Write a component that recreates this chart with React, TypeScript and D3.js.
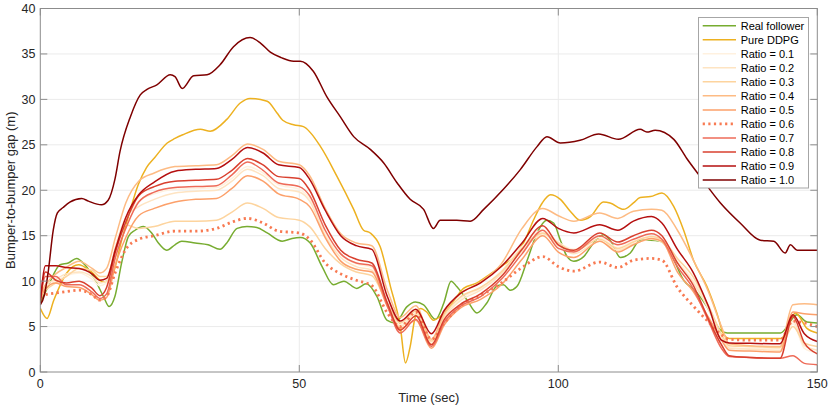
import React, { useEffect, useRef } from 'react'
import * as d3 from 'd3'

// [time (sec), gap (m)] pairs
const realFollower: [number, number][] = [
	[0, 7.6], [1.5, 9.4], [3.8, 11.8], [5.4, 12.0], [7, 12.5], [8.6, 11.8], [10.6, 10.1], [12.2, 8.3],
	[13.3, 7.2], [14.4, 8.3], [15.7, 12.0], [17, 14.9], [18.3, 15.6], [19.9, 16.0], [21.5, 15.3],
	[22.8, 14.2], [24.4, 13.4], [26, 14.0], [27.3, 14.4], [29.9, 14.2], [32.4, 14.0], [34.7, 13.5],
	[36, 14.2], [38, 15.8], [39.9, 16.0], [41.8, 15.9], [43.8, 15.3], [46.7, 14.4], [48.6, 14.7],
	[50.2, 14.8], [52.1, 14.2], [54.4, 11.6], [56.6, 9.6], [58.6, 10.0], [61.1, 9.2], [62.9, 9.7],
	[65, 8.3], [66.9, 5.7], [68.5, 5.4], [70.8, 7.2], [72.4, 7.7], [74, 7.4], [76.3, 5.8], [77.9, 7.6],
	[79.3, 10.0], [80.4, 9.4], [82.4, 7.9], [84.3, 6.5], [86.2, 7.6], [88.2, 9.5], [89.4, 9.6],
	[90.7, 9.0], [92, 9.4], [94, 12.3], [95.9, 15.3], [97.8, 16.7], [99.1, 16.4], [100.4, 14.5],
	[101.7, 12.7], [103, 12.2], [104.9, 12.7], [106.8, 14.2], [108.7, 15.1], [110, 14.5], [112, 12.6],
	[113.9, 13.1], [115.8, 14.5], [117.8, 14.5], [119.7, 14.4], [121, 13.8], [124.2, 10.1],
	[126.8, 8.7], [128.7, 7.2], [131.3, 4.6], [132.6, 4.3], [142.9, 4.3], [146.1, 6.3], [148, 5.5],
	[150, 5.4]
]

const pureDDPG: [number, number][] = [
	[0, 7.0], [1.3, 5.9], [2.6, 7.9], [5.1, 10.9], [7.4, 11.8], [9.7, 11.1], [12.2, 9.9], [13.2, 10.1],
	[14.1, 10.9], [15.7, 14.5], [17, 17.1], [18.9, 20.6], [20.5, 22.5], [22.1, 23.6], [24.5, 25.2],
	[26, 25.7], [27.5, 26.1], [30.9, 26.7], [32.8, 26.5], [36, 27.8], [38.6, 29.6], [40.5, 30.1],
	[43.8, 29.8], [45.7, 28.5], [46.8, 27.7], [48.9, 27.2], [50.8, 27.0], [54.1, 24.8], [57.3, 21.5],
	[60.5, 17.9], [62.4, 15.6], [63.7, 15.3], [65.6, 13.8], [67.6, 9.4], [69.5, 5.0], [70.5, 1.0],
	[71.4, 2.8], [72.4, 6.1], [73.4, 7.0], [74.6, 6.6], [75.9, 5.7], [77.2, 6.1], [78.5, 6.8],
	[80.4, 8.3], [81.7, 9.2], [84.3, 9.8], [86.9, 10.8], [89.4, 11.8], [90.7, 12.3], [93.3, 14.2],
	[95.2, 16.7], [96.9, 18.6], [98.5, 19.5], [100.4, 19.0], [102.3, 17.7], [104.2, 16.7],
	[106.2, 17.1], [108.7, 18.7], [110, 18.6], [112.6, 17.9], [114.5, 18.6], [115.8, 19.2],
	[117.8, 19.3], [120, 19.7], [122.3, 18.2], [124.2, 15.6], [126.1, 12.3], [128.7, 9.4],
	[130.6, 6.5], [131.9, 4.2], [133, 3.7], [143, 3.7], [145.8, 6.5], [148, 4.8], [150, 4.3]
]

const ratio10: [number, number][] = [
	[0, 7.4], [0.8, 8.5], [1.5, 10.9], [2.5, 15.6], [3.3, 17.5], [4.4, 18.1], [5.7, 18.7], [8, 19.1],
	[9.3, 18.8], [11.8, 18.4], [13.1, 18.9], [14.4, 21.2], [15.4, 24.3], [17.4, 28.1], [19.3, 30.5],
	[20.6, 31.1], [22.5, 31.6], [25.1, 32.7], [26, 32.5], [27.4, 31.2], [29.6, 32.6], [32.2, 32.7],
	[34.7, 33.8], [37.3, 35.8], [40.5, 36.8], [42.5, 36.2], [44.4, 35.2], [46.5, 34.6], [48.9, 34.2],
	[50.2, 34.2], [52.7, 33.1], [55.3, 30.3], [57.9, 28.1], [60.5, 25.9], [63.7, 24.5], [66.3, 23.0],
	[68.9, 20.8], [71.4, 19.0], [74, 17.9], [75.9, 15.8], [77.2, 16.7], [80.4, 16.7], [83, 16.6],
	[85.6, 17.9], [89.4, 20.1], [92.7, 22.3], [95.9, 24.8], [97.8, 25.9], [100.4, 25.2],
	[104.2, 25.5], [107.8, 26.2], [111.6, 25.6], [115.8, 26.7], [117.1, 26.4], [118.7, 26.6],
	[122.3, 25.6], [124.8, 23.5], [127.4, 21.5], [131.3, 18.6], [135.1, 16.4], [139, 14.5],
	[141.6, 14.4], [143.8, 13.1], [144.8, 14.0], [146.1, 13.4], [150, 13.4]
]

// Ratio 0.1 ... 0.9 share one time grid
const ratioTime = [
	0, 1, 3, 5, 7.5, 10, 11.5, 12.8, 14.5, 16.5, 19, 22, 26, 30, 34, 37, 40, 43, 46, 50, 52, 55, 58,
	61, 64, 67, 69.5, 72.5, 75.5, 78, 81, 85, 89, 93, 97, 100, 103, 108, 111.5, 114.5, 118, 120, 123,
	126, 129, 131.5, 133, 137, 142.8, 145.3, 147.5, 150
]

const ratio01 = [
	8.1, 9.3, 10.0, 10.6, 10.9, 10.2, 9.5, 9.8, 13.5, 16.7, 18.8, 19.6, 20.1, 20.2, 20.3, 21.3, 22.6,
	21.9, 20.6, 20.1, 19.1, 15.3, 12.9, 11.9, 11.5, 7.9, 5.2, 6.6, 3.3, 6.1, 8.0, 9.2, 11.1, 13.8, 15.6,
	14.3, 13.5, 14.8, 13.7, 14.4, 14.9, 14.5, 12.2, 10.1, 7.1, 4.0, 2.7, 2.6, 2.6, 5.3, 2.6, 2.1
]
const ratio02 = [
	8.2, 9.5, 10.2, 10.8, 11.0, 10.5, 9.8, 10.0, 13.8, 17.0, 18.2, 19.0, 19.7, 19.9, 20.0, 21.0, 22.3,
	21.6, 20.2, 19.8, 18.8, 15.0, 12.6, 11.6, 11.2, 7.6, 5.0, 6.4, 3.1, 6.0, 7.8, 9.0, 10.8, 13.3, 15.2,
	13.9, 13.0, 14.4, 13.4, 14.1, 14.6, 14.3, 12.0, 9.9, 6.9, 3.9, 2.6, 2.5, 2.4, 5.6, 2.9, 2.4
]
const ratio03 = [
	8.4, 9.0, 9.8, 10.5, 11.4, 11.2, 10.5, 10.5, 13.5, 16.2, 15.8, 16.0, 16.6, 16.6, 16.7, 17.6, 18.6,
	18.0, 17.0, 16.7, 16.0, 13.6, 11.9, 11.0, 10.6, 7.5, 5.4, 6.7, 3.4, 6.3, 8.2, 9.3, 11.0, 13.6, 15.3,
	14.2, 13.3, 14.6, 13.6, 14.3, 14.9, 14.6, 12.5, 10.5, 7.3, 4.2, 2.9, 2.8, 2.7, 5.0, 3.2, 2.8
]
const ratio04 = [
	8.5, 9.6, 10.8, 11.5, 12.2, 11.4, 10.9, 11.4, 14.8, 18.6, 21.0, 21.9, 22.6, 22.7, 22.8, 23.8, 25.1,
	24.5, 23.2, 22.8, 21.6, 18.0, 15.2, 14.2, 13.9, 9.0, 6.0, 7.3, 3.6, 6.6, 8.6, 9.9, 11.9, 15.8, 18.0,
	17.2, 16.6, 17.5, 16.9, 17.7, 17.9, 17.8, 15.6, 12.4, 8.8, 5.0, 3.1, 2.9, 2.8, 7.4, 7.5, 7.4
]
const ratio05 = [
	8.0, 9.2, 9.8, 9.4, 9.3, 8.5, 7.9, 8.2, 11.8, 14.8, 17.2, 18.0, 18.7, 19.0, 19.1, 20.2, 21.6, 21.0,
	19.6, 19.0, 18.2, 14.8, 12.2, 11.3, 11.0, 7.2, 4.8, 5.7, 2.6, 5.2, 7.0, 8.0, 9.6, 12.4, 15.0, 13.2,
	12.6, 14.4, 13.2, 14.0, 14.7, 14.4, 11.0, 8.9, 6.0, 3.5, 2.4, 2.3, 2.2, 6.6, 6.4, 6.3
]
const ratio06 = [
	8.3, 8.5, 8.7, 8.85, 9.0, 8.5, 7.9, 8.3, 11.0, 13.5, 14.6, 15.0, 15.5, 15.5, 15.8, 16.5, 16.9, 16.4,
	15.5, 15.3, 14.6, 12.0, 10.8, 10.1, 9.5, 6.5, 5.0, 6.6, 3.6, 5.4, 7.2, 8.4, 9.8, 11.5, 12.7, 11.6,
	11.1, 12.1, 11.5, 12.3, 12.5, 12.3, 9.3, 7.3, 5.5, 4.1, 3.6, 3.5, 3.5, 5.6, 5.4, 5.0
]
const ratio07 = [
	7.9, 10.5, 10.5, 9.6, 9.6, 8.8, 8.1, 8.6, 12.6, 15.8, 18.7, 19.8, 20.3, 20.4, 20.5, 21.7, 23.1, 22.2,
	20.8, 20.4, 19.4, 15.6, 13.0, 12.0, 11.7, 7.3, 4.3, 5.8, 2.8, 5.5, 7.2, 8.3, 10.2, 13.0, 15.6, 13.6,
	13.2, 15.0, 14.0, 14.6, 15.2, 14.6, 11.6, 9.2, 5.6, 2.6, 1.7, 1.6, 1.5, 1.8, 0.95, 0.8
]
const ratio08 = [
	7.8, 11.0, 10.1, 9.8, 10.0, 9.2, 8.4, 9.3, 13.2, 16.5, 19.4, 20.4, 21.0, 21.1, 21.2, 22.2, 23.5, 22.8,
	21.5, 21.3, 20.0, 16.2, 13.4, 12.4, 12.0, 7.6, 4.6, 6.2, 3.0, 5.8, 7.4, 8.6, 10.5, 13.5, 16.1, 14.0,
	13.4, 15.3, 14.3, 15.0, 15.6, 15.0, 12.0, 9.6, 5.8, 3.0, 1.8, 1.6, 1.5, 6.1, 3.2, 2.0
]
const ratio09 = [
	7.6, 11.7, 11.7, 11.5, 11.4, 10.8, 10.1, 10.3, 13.5, 17.0, 19.5, 20.9, 22.1, 22.3, 22.4, 23.4, 24.7,
	24.1, 22.8, 22.5, 21.2, 17.8, 15.0, 13.9, 13.5, 8.3, 5.6, 6.9, 4.2, 6.8, 8.6, 9.8, 11.6, 14.2, 16.9,
	15.8, 15.3, 16.2, 15.6, 16.6, 17.1, 16.4, 13.5, 11.0, 7.2, 3.5, 3.2, 3.15, 3.1, 6.3, 4.2, 3.35
]

const legendLabels = [
	'Real follower', 'Pure DDPG', 'Ratio = 0.1', 'Ratio = 0.2', 'Ratio = 0.3', 'Ratio = 0.4',
	'Ratio = 0.5', 'Ratio = 0.6', 'Ratio = 0.7', 'Ratio = 0.8', 'Ratio = 0.9', 'Ratio = 1.0'
]
const lineColors = [
	'#77ac30', '#edb120', '#fff1df', '#fee4c2', '#fdd49e', '#fdbb84', '#fca06a', '#f87a52', '#ee6b58',
	'#d9402f', '#b50f0f', '#7f0000'
]
const xTicks = [0, 50, 100, 150]
const yTicks = [0, 5, 10, 15, 20, 25, 30, 35, 40]

const App = () => {
	const d3Container = useRef<SVGSVGElement>(null)

	const width = 830
	const height = 410
	const marginLeft = 40.3
	const marginRight = 817.3
	const marginTop = 8.5
	const marginBottom = 372
	const font = '"Liberation Sans", Arial, Helvetica, sans-serif'

	useEffect(() => {
		if (!d3Container.current) return
		const svg = d3.select(d3Container.current)
		svg.selectAll('*').remove()

		const x = d3.scaleLinear().domain([0, 150]).range([marginLeft, marginRight])
		const y = d3.scaleLinear().domain([0, 40]).range([marginBottom, marginTop])

		const toPairs = (vals: number[]) => vals.map((v, i) => [ratioTime[i], v] as [number, number])
		const series = [
			realFollower,
			pureDDPG,
			toPairs(ratio01),
			toPairs(ratio02),
			toPairs(ratio03),
			toPairs(ratio04),
			toPairs(ratio05),
			toPairs(ratio06),
			toPairs(ratio07),
			toPairs(ratio08),
			toPairs(ratio09),
			ratio10
		]

		// grid
		const grid = svg.append('g').attr('stroke', '#ebebeb').attr('stroke-width', 1)
		grid
			.selectAll('line.gx')
			.data(xTicks.slice(1, -1))
			.join('line')
			.attr('x1', d => x(d))
			.attr('x2', d => x(d))
			.attr('y1', marginTop)
			.attr('y2', marginBottom)
		grid
			.selectAll('line.gy')
			.data(yTicks.slice(1, -1))
			.join('line')
			.attr('x1', marginLeft)
			.attr('x2', marginRight)
			.attr('y1', d => y(d))
			.attr('y2', d => y(d))

		svg
			.append('clipPath')
			.attr('id', 'plot-clip')
			.append('rect')
			.attr('x', marginLeft)
			.attr('y', marginTop)
			.attr('width', marginRight - marginLeft)
			.attr('height', marginBottom - marginTop)

		const line = d3
			.line<[number, number]>()
			.x(d => x(d[0]))
			.y(d => y(d[1]))
			.curve(d3.curveMonotoneX)

		svg
			.append('g')
			.attr('clip-path', 'url(#plot-clip)')
			.selectAll('path')
			.data(series)
			.join('path')
			.attr('fill', 'none')
			.attr('stroke', (_, i) => lineColors[i])
			.attr('stroke-width', (_, i) => (i === 7 ? 2.8 : 1.5))
			.attr('stroke-dasharray', (_, i) => (i === 7 ? '2.2,3.4' : null))
			.attr('stroke-linejoin', 'round')
			.attr('d', d => line(d))

		// axes box with inward ticks on all four sides
		const axisColor = '#8c8c8c'
		svg
			.append('rect')
			.attr('x', marginLeft)
			.attr('y', marginTop)
			.attr('width', marginRight - marginLeft)
			.attr('height', marginBottom - marginTop)
			.attr('fill', 'none')
			.attr('stroke', axisColor)
			.attr('stroke-width', 1)

		const tickLen = 7
		const ticks = svg.append('g').attr('stroke', axisColor).attr('stroke-width', 1)
		xTicks.forEach(t => {
			ticks.append('line').attr('x1', x(t)).attr('x2', x(t)).attr('y1', marginBottom).attr('y2', marginBottom - tickLen)
			ticks.append('line').attr('x1', x(t)).attr('x2', x(t)).attr('y1', marginTop).attr('y2', marginTop + tickLen)
		})
		yTicks.forEach(t => {
			ticks.append('line').attr('x1', marginLeft).attr('x2', marginLeft + tickLen).attr('y1', y(t)).attr('y2', y(t))
			ticks.append('line').attr('x1', marginRight).attr('x2', marginRight - tickLen).attr('y1', y(t)).attr('y2', y(t))
		})

		svg
			.append('g')
			.selectAll('text')
			.data(xTicks)
			.join('text')
			.attr('x', d => x(d))
			.attr('y', 388)
			.attr('text-anchor', 'middle')
			.attr('font-family', font)
			.attr('font-size', 12.5)
			.attr('fill', '#262626')
			.text(d => d)

		svg
			.append('g')
			.selectAll('text')
			.data(yTicks)
			.join('text')
			.attr('x', 35.5)
			.attr('y', d => y(d))
			.attr('dy', '0.36em')
			.attr('text-anchor', 'end')
			.attr('font-family', font)
			.attr('font-size', 12.5)
			.attr('fill', '#262626')
			.text(d => d)

		svg
			.append('text')
			.attr('x', (marginLeft + marginRight) / 2)
			.attr('y', 402)
			.attr('text-anchor', 'middle')
			.attr('font-family', font)
			.attr('font-size', 13)
			.attr('fill', '#262626')
			.text('Time (sec)')

		svg
			.append('text')
			.attr('transform', `translate(15, ${(marginTop + marginBottom) / 2}) rotate(-90)`)
			.attr('text-anchor', 'middle')
			.attr('font-family', font)
			.attr('font-size', 13)
			.attr('fill', '#262626')
			.text('Bumper-to-bumper gap (m)')

		// legend
		const legend = svg.append('g')
		legend
			.append('rect')
			.attr('x', 698.5)
			.attr('y', 17.5)
			.attr('width', 110)
			.attr('height', 170.5)
			.attr('fill', '#fff')
			.attr('stroke', '#a6a6a6')
			.attr('stroke-width', 1)
		const rows = legend
			.selectAll('g.row')
			.data(legendLabels)
			.join('g')
			.attr('transform', (_, i) => `translate(0, ${25.7 + i * 14.03})`)
		rows
			.append('line')
			.attr('x1', 702.7)
			.attr('x2', 736)
			.attr('stroke', (_, i) => lineColors[i])
			.attr('stroke-width', (_, i) => (i === 7 ? 2.8 : 1.5))
			.attr('stroke-dasharray', (_, i) => (i === 7 ? '2.2,3.4' : null))
		rows
			.append('text')
			.attr('x', 740.7)
			.attr('dy', '0.36em')
			.attr('font-family', font)
			.attr('font-size', 11)
			.attr('fill', '#000')
			.text(d => d)
	}, [])

	return (
		<svg
			ref={d3Container}
			width={width}
			height={height}
			style={{ position: 'absolute', left: 0, top: 0, background: '#fff' }}
		></svg>
	)
}

export default App
